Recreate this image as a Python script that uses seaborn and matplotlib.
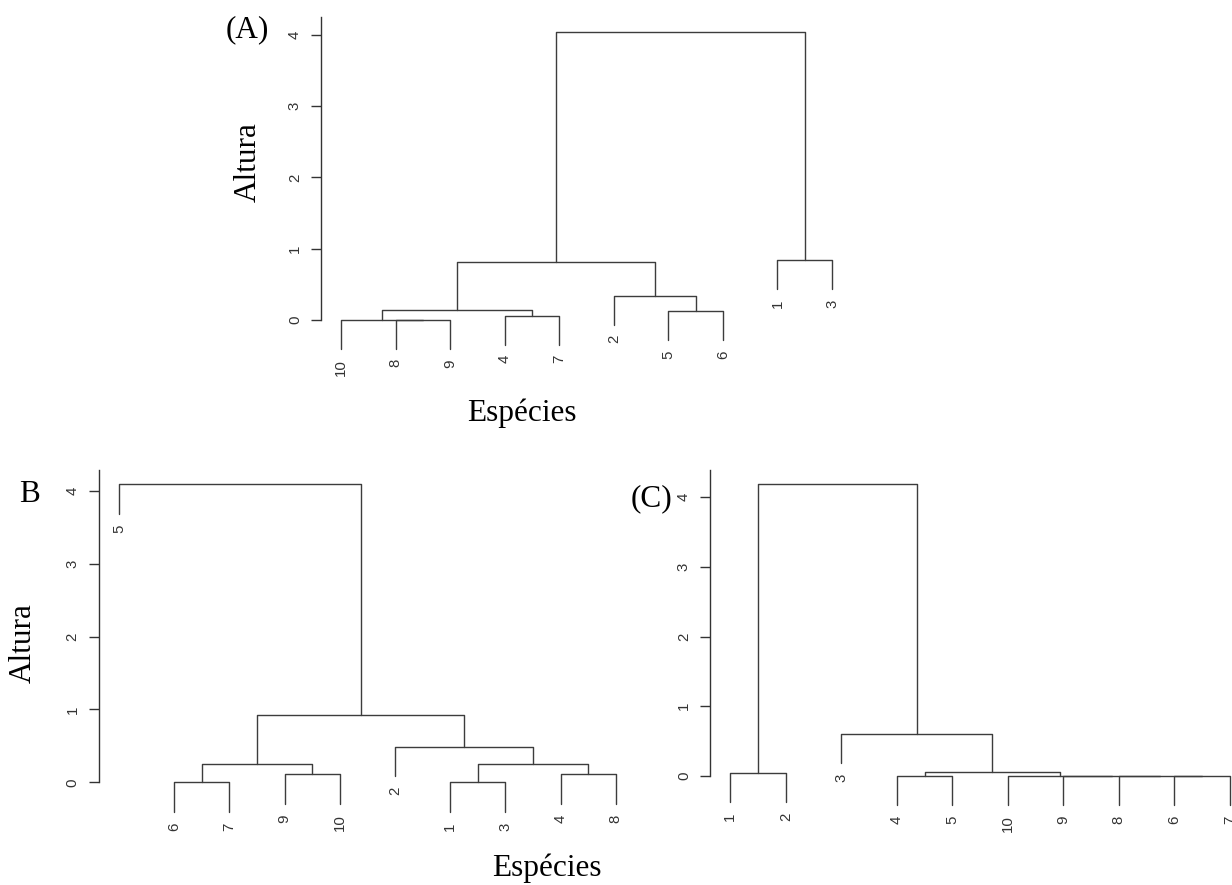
import numpy as np
import pandas as pd
import matplotlib
matplotlib.use("Agg")
import matplotlib.pyplot as plt
import seaborn as sns

# ---- data: R-style hclust merge matrices (negative = species, positive = earlier step) ----
merge_a_left = [-8, -10, -4, -5, 2, -2, 5, -1, 7]
merge_a_right = [-9, 1, -7, -6, 3, 4, 6, -3, 8]
height_a = [0.0, 0.0, 0.06, 0.12, 0.14, 0.34, 0.82, 0.84, 4.04]

merge_b_left = [-6, -1, -9, -4, 1, 2, -2, 5, -5]
merge_b_right = [-7, -3, -10, -8, 3, 4, 6, 7, 8]
height_b = [0.0, 0.0, 0.11, 0.11, 0.255, 0.25, 0.49, 0.93, 4.09]

merge_c_left = [-6, -8, -9, -10, -4, -1, 5, -3, 6]
merge_c_right = [-7, 1, 2, 3, -5, -2, 4, 7, 8]
height_c = [0.0, 0.0, 0.0, 0.0, 0.0, 0.05, 0.06, 0.60, 4.19]

y_ticks = [0, 1, 2, 3, 4]
panel_tags = ["(A)", "B", "(C)"]
ylabel_text = "Altura"
xlabel_text = "Espécies"

LINE = "#3c3c3c"
W, H = 1232, 885

sns.set_theme(style="white")
plt.rcParams["font.family"] = ["Liberation Sans", "DejaVu Sans"]


def build(left, right, heights):
    n = len(heights)

    def leaves(node):
        if node < 0:
            return [-node]
        return leaves(left[node - 1]) + leaves(right[node - 1])

    order = leaves(n)
    pos = {sp: i + 1 for i, sp in enumerate(order)}
    hang = 0.1 * (max(heights) - min(heights))
    center = {}
    rows, tips = [], []
    for k in range(n):
        h = heights[k]
        pts = []
        for child in (left[k], right[k]):
            if child < 0:
                x, y = pos[-child], h - hang
                tips.append((-child, x, y))
            else:
                x, y = center[child], heights[child - 1]
            pts.append((x, y))
        center[k + 1] = (pts[0][0] + pts[1][0]) / 2
        for j, (x, y) in enumerate([pts[0], (pts[0][0], h), (pts[1][0], h), pts[1]]):
            rows.append({"seg": k, "step": j, "x": x, "y": y})
    return pd.DataFrame(rows), tips


def px_axes(fig, left, right, top, bottom):
    return fig.add_axes([left / W, 1 - bottom / H, (right - left) / W, (bottom - top) / H])


fig = plt.figure(figsize=(W / 100, H / 100), dpi=100)

# panel geometry in pixels: (x of first leaf, leaf spacing, y of zero, px per unit, ylim top)
panels = [
    (merge_a_left, merge_a_right, height_a, 341, 54.56, 320, 71.3, 4.25),
    (merge_b_left, merge_b_right, height_b, 119, 55.2, 782.3, 72.9, 4.28),
    (merge_c_left, merge_c_right, height_c, 730.3, 55.5, 776, 69.7, 4.39),
]

LBL = 10.8
axes = []
for left, right, heights, x0, dx, y0, dy, ytop in panels:
    xlo, xhi = 0.64, 10.36
    ylo = -1.2
    ax = px_axes(fig, x0 + (xlo - 1) * dx, x0 + (xhi - 1) * dx, y0 - ytop * dy, y0 - ylo * dy)
    df, tips = build(left, right, heights)
    sns.lineplot(data=df, x="x", y="y", units="seg", estimator=None, sort=False,
                 color=LINE, lw=1.0, ax=ax, legend=False)
    for sp, x, y in tips:
        ax.annotate(str(sp), (x, y), xytext=(0, -7.5), textcoords="offset points",
                    rotation=90, ha="center", va="top", fontsize=LBL, color="#333333",
                    annotation_clip=False)
    ax.set_xlim(xlo, xhi)
    ax.set_ylim(ylo, ytop)
    ax.set_xlabel("")
    ax.set_ylabel("")
    ax.set_xticks([])
    ax.set_yticks(y_ticks)
    ax.set_yticklabels([str(t) for t in y_ticks])
    for s in ["top", "right", "bottom"]:
        ax.spines[s].set_visible(False)
    ax.spines["left"].set_bounds(0, ytop)
    ax.spines["left"].set_color("#333333")
    ax.spines["left"].set_linewidth(1.0)
    ax.tick_params(axis="y", direction="out", length=7, width=1.0, pad=7.0,
                   labelsize=LBL, labelrotation=90, colors="#333333", left=True)
    for lab in ax.get_yticklabels():
        lab.set_va("center")
    ax.patch.set_visible(False)
    axes.append(ax)

serif = ["Liberation Serif", "DejaVu Serif"]
fs = 22.5


def ftext(x, y, s, **kw):
    fig.text(x / W, 1 - y / H, s, family=serif, fontsize=fs, color="black",
             ha="center", va="center", **kw)


ftext(247, 30, panel_tags[0])
ftext(29, 495, panel_tags[1])
ftext(651, 499, panel_tags[2])
ftext(248, 162, ylabel_text, rotation=90)
ftext(23, 643, ylabel_text, rotation=90)
ftext(522, 413, xlabel_text)
ftext(547, 868, xlabel_text)

fig.savefig("out.png", dpi=100, facecolor="white")
